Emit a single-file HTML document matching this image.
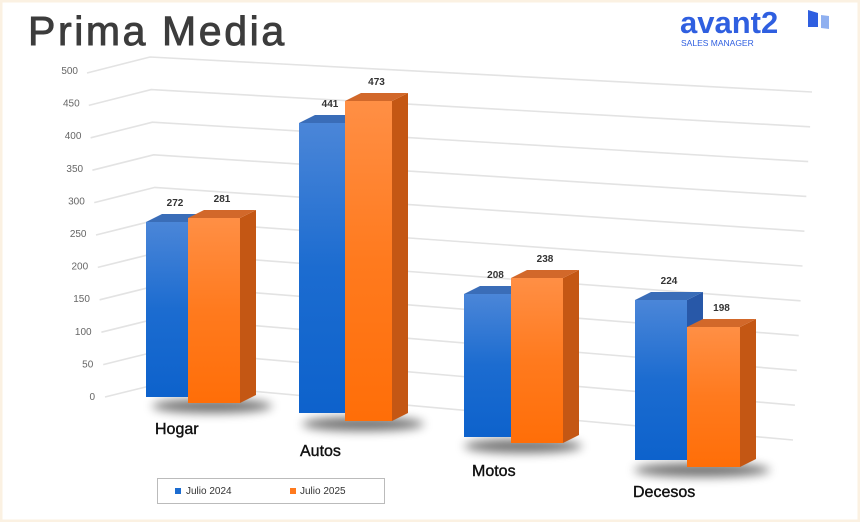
<!DOCTYPE html>
<html><head><meta charset="utf-8"><style>
html,body{margin:0;padding:0;background:#fff;}
body{width:860px;height:522px;overflow:hidden;position:relative;font-family:"Liberation Sans",sans-serif;}
</style></head><body>
<svg width="860" height="522" viewBox="0 0 860 522" xmlns="http://www.w3.org/2000/svg" id="s">
<defs>
<linearGradient id="gb" x1="0" y1="0" x2="0" y2="1"><stop offset="0" stop-color="#4b86d8"/><stop offset="0.5" stop-color="#1c6cd0"/><stop offset="1" stop-color="#0d62cc"/></linearGradient>
<linearGradient id="go" x1="0" y1="0" x2="0" y2="1"><stop offset="0" stop-color="#ff8f45"/><stop offset="0.5" stop-color="#ff7a1e"/><stop offset="1" stop-color="#ff6e08"/></linearGradient>
<filter id="sh" x="-30%" y="-100%" width="160%" height="300%"><feGaussianBlur stdDeviation="5"/></filter>
</defs>
<rect x="0" y="0" width="860" height="522" fill="#fff"/>
<rect x="1" y="1" width="858" height="520" fill="none" stroke="#fbf1e2" stroke-width="3"/>
<text x="28" y="45" font-size="41" fill="#3c3c3c" stroke="#3c3c3c" stroke-width="0.9" font-family="Liberation Sans, sans-serif" letter-spacing="2.6">Prima Media</text>
<text x="680" y="33" font-size="31" font-weight="bold" fill="#2f5fe0" font-family="Liberation Sans, sans-serif">avant2</text>
<polygon points="808,10 818,13 818,27 808,27" fill="#2f5fe0"/>
<polygon points="821,15 829,16 829,29 821,28" fill="#8fb0f0"/>
<text x="681" y="46" font-size="8.5" fill="#2f5fe0" font-family="Liberation Sans, sans-serif">SALES MANAGER</text>
<g id="grid" stroke="#e3e3e3" stroke-width="1.6" fill="none"></g>
<g id="ticks" font-size="10" fill="#666" text-anchor="end"></g>
<g id="bars"></g>
<g font-size="16" fill="#111" stroke="#111" stroke-width="0.4" font-family="Liberation Sans, sans-serif">
<text x="155" y="434">Hogar</text>
<text x="300" y="456">Autos</text>
<text x="472" y="476">Motos</text>
<text x="633" y="497">Decesos</text>
</g>
<rect x="157.5" y="478.5" width="227" height="25" fill="#fff" stroke="#bbb"/>
<rect x="175" y="488" width="6" height="6" fill="#1c6cd0"/>
<text x="186" y="494" font-size="10" fill="#333">Julio 2024</text>
<rect x="290" y="488" width="6" height="6" fill="#ff7a1e"/>
<text x="300" y="494" font-size="10" fill="#333">Julio 2025</text>
</svg>
<script>
var NS="http://www.w3.org/2000/svg";
function el(p,t,a,txt){var e=document.createElementNS(NS,t);for(var k in a)e.setAttribute(k,a[k]);if(txt!==undefined)e.textContent=txt;p.appendChild(e);return e;}
var g=document.getElementById('grid'),tk=document.getElementById('ticks'),b=document.getElementById('bars');
for(var i=0;i<=10;i++){
 var lx=105-1.8*i, ly=397-32.4*i;
 var cx=150+(10-i)*1.2, cy=57+(10-i)*32.6;
 var rx=793+1.9*i, ry=440-34.8*i;
 el(g,'polyline',{points:lx+','+ly+' '+cx+','+cy+' '+rx+','+ry});
 el(tk,'text',{x:95-1.7*i,y:400-32.6*i},String(i*50));
}
var D=[16,-8];
var bars=[
 [146,188,222,397,'b',272],[188,240,218,403,'o',281],
 [299,345,123,413,'b',441],[345,392,101,421,'o',473],
 [464,511,294,437,'b',208],[511,563,278,443,'o',238],
 [635,687,300,460,'b',224],[687,740,327,467,'o',198]];
[[150,258,400,410],[300,410,418,428],[462,568,440,450],[632,756,464,474]].forEach(function(s){
 el(b,'ellipse',{cx:(s[0]+s[1])/2+8,cy:s[2]+6,rx:(s[1]-s[0])/2+6,ry:7,fill:'#000',opacity:0.55,filter:'url(#sh)'});
});
bars.forEach(function(r){
 var x0=r[0],x1=r[1],t=r[2],bt=r[3],o=r[4]=='o';
 var dx=D[0],dy=D[1];
 el(b,'polygon',{points:[x1,t,x1+dx,t+dy,x1+dx,bt+dy,x1,bt].join(' '),fill:o?'#c45714':'#2858a8'});
 el(b,'polygon',{points:[x0,t,x0+dx,t+dy,x1+dx,t+dy,x1,t].join(' '),fill:o?'#d2682a':'#3a6db8'});
 el(b,'rect',{x:x0,y:t,width:x1-x0,height:bt-t,fill:o?'url(#go)':'url(#gb)'});
 el(b,'text',{x:(x0+x1)/2+8,y:t+dy-8,'font-size':10,'font-weight':'bold',fill:'#333','text-anchor':'middle'},String(r[5]));
});
</script>
</body></html>
